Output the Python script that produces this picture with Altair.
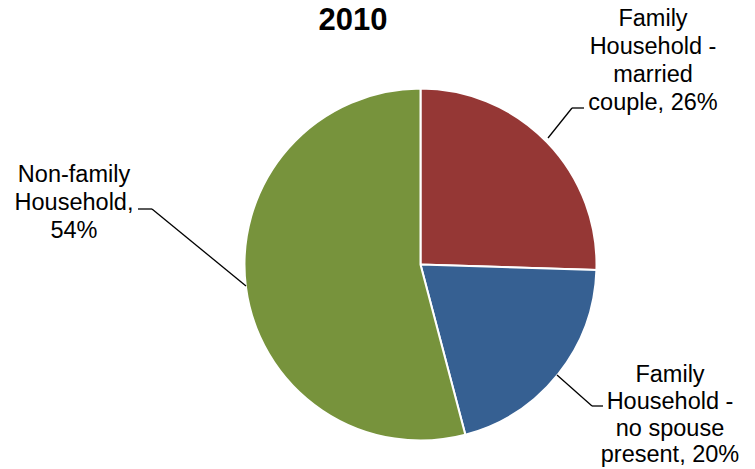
import altair as alt
import pandas as pd

categories = ["Family Household - married couple", "Family Household - no spouse present", "Non-family Household"]
wrapped = ["Family\nHousehold -\nmarried\ncouple", "Family\nHousehold -\nno spouse\npresent", "Non-family\nHousehold"]
shares = [25.5, 20.4, 54.1]          # slice sizes
label_pct = [26, 20, 54]             # percentages printed in the labels
colors = ["#953735", "#366092", "#77933C"]
title_text = "2010"

df = pd.DataFrame({"category": categories, "share": shares, "order": [0, 1, 2]})

OX, OY = 8, 8  # page margin offset
def px(v):
    return v - OX
def py(v):
    return v - OY

pie = alt.Chart(df).mark_arc(
    outerRadius=176, stroke="white", strokeWidth=2
).encode(
    theta=alt.Theta("share:Q", stack=True),
    order=alt.Order("order:Q"),
    color=alt.Color("category:N", scale=alt.Scale(domain=categories, range=colors), legend=None),
    x=alt.value(px(420.5)),
    y=alt.value(py(264.5)),
)

one = pd.DataFrame({"a": [0]})
font = "Liberation Sans"

def label(text, x, y, lh):
    return alt.Chart(one).mark_text(
        font=font, fontSize=23.5, align="center", baseline="alphabetic",
        lineBreak="\n", lineHeight=lh, color="black"
    ).encode(x=alt.value(px(x)), y=alt.value(py(y)), text=alt.value(text))

labels = [
    label(f"{wrapped[0]}, {label_pct[0]}%", 653, 26, 28.1),
    label(f"{wrapped[1]}, {label_pct[1]}%", 670, 382, 26.8),
    label(f"{wrapped[2]},\n{label_pct[2]}%", 74, 182, 28),
]

def seg(x1, y1, x2, y2):
    return alt.Chart(one).mark_rule(color="black", strokeWidth=1.3).encode(
        x=alt.value(px(x1)), y=alt.value(py(y1)), x2=alt.value(px(x2)), y2=alt.value(py(y2))
    )

leaders = [
    seg(548, 138, 572, 108), seg(572, 108, 584, 108),
    seg(557, 375, 592, 406), seg(592, 406, 603, 406),
    seg(138, 209, 152, 209), seg(152, 209, 246, 286),
]

title = alt.Chart(one).mark_text(
    font=font, fontSize=31, fontWeight="bold", align="center", baseline="alphabetic", color="black"
).encode(x=alt.value(px(353)), y=alt.value(py(30)), text=alt.value(title_text))

chart = alt.layer(pie, *leaders, *labels, title).properties(
    width=739, height=461, padding=0, autosize=alt.AutoSizeParams(type="none")
).configure_view(stroke=None)

chart.save("out.html", embed_options={"renderer": "svg", "actions": False})
